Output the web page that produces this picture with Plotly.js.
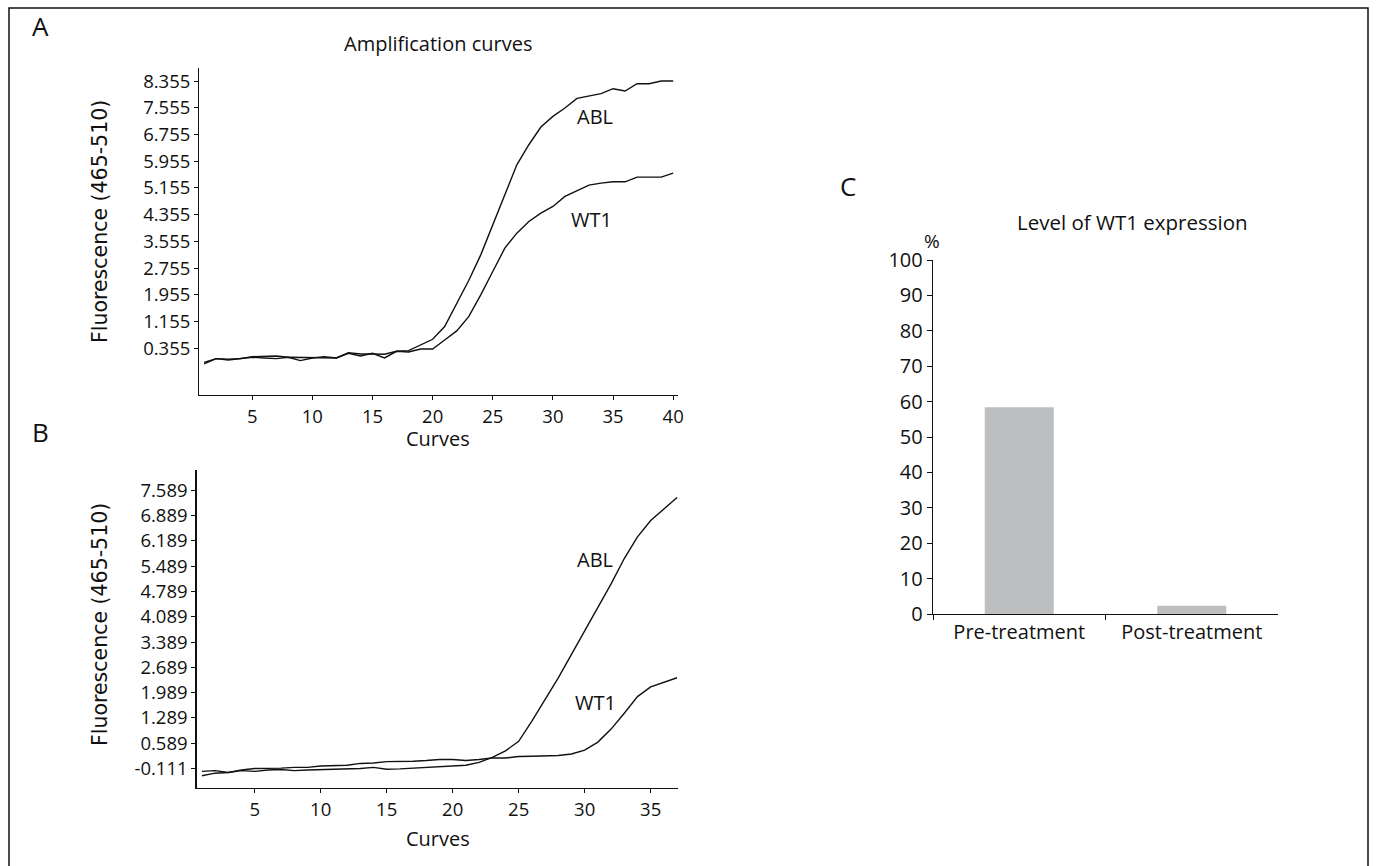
<!DOCTYPE html>
<html><head><meta charset="utf-8">
<script src="https://cdn.plot.ly/plotly-3.0.1.min.js"></script>
<style>html,body{margin:0;padding:0;background:#fff;} #chart{width:1376px;height:866px;}</style>
</head><body><div id="chart"></div>
<script>
// ---------- Data ----------
const cyclesA = [1,2,3,4,5,6,7,8,9,10,11,12,13,14,15,16,17,18,19,20,21,22,23,24,25,26,27,28,29,30,31,32,33,34,35,36,37,38,39,40];
const ablA = [-0.07,0.04,0.02,0.04,0.10,0.12,0.12,0.08,-0.02,0.06,0.10,0.06,0.20,0.12,0.20,0.06,0.26,0.28,0.46,0.62,1.00,1.70,2.38,3.15,4.05,4.95,5.85,6.45,6.98,7.30,7.55,7.84,7.90,7.98,8.13,8.06,8.28,8.28,8.36,8.36];
const wt1A = [-0.12,0.04,0.00,0.04,0.08,0.06,0.04,0.08,0.08,0.06,0.08,0.06,0.22,0.18,0.18,0.17,0.26,0.24,0.33,0.33,0.60,0.87,1.30,1.95,2.65,3.35,3.80,4.15,4.40,4.60,4.90,5.08,5.24,5.30,5.34,5.34,5.48,5.48,5.48,5.60];
const yTicksA = [0.355,1.155,1.955,2.755,3.555,4.355,5.155,5.955,6.755,7.555,8.355];
const xTicksA = [5,10,15,20,25,30,35,40];

const cyclesB = [1,2,3,4,5,6,7,8,9,10,11,12,13,14,15,16,17,18,19,20,21,22,23,24,25,26,27,28,29,30,31,32,33,34,35,36,37];
const ablB = [-0.31,-0.24,-0.22,-0.17,-0.19,-0.15,-0.14,-0.17,-0.15,-0.14,-0.14,-0.14,-0.11,-0.08,-0.13,-0.12,-0.10,-0.08,-0.08,-0.06,-0.02,0.06,0.20,0.38,0.64,1.20,1.80,2.40,3.05,3.70,4.33,5.00,5.70,6.30,6.75,7.07,7.39];
const wt1B = [-0.19,-0.17,-0.22,-0.15,-0.11,-0.11,-0.10,-0.08,-0.08,-0.04,-0.04,-0.02,0.03,0.04,0.08,0.08,0.09,0.11,0.14,0.14,0.11,0.14,0.18,0.18,0.22,0.23,0.24,0.25,0.29,0.40,0.62,0.98,1.42,1.88,2.15,2.27,2.40];
const yTicksB = [-0.111,0.589,1.289,1.989,2.689,3.389,4.089,4.789,5.489,6.189,6.889,7.589];
const xTicksB = [5,10,15,20,25,30,35];

const categoriesC = ['Pre-treatment','Post-treatment'];
const valuesC = [58.4, 2.3];
const yTicksC = [0,10,20,30,40,50,60,70,80,90,100];

// ---------- Helpers ----------
const W = 1376, H = 866;
const px = x => x / W;
const py = y => 1 - y / H;
const FAM = 'Open Sans, sans-serif';
const TICKFONT = {family: FAM, size: 18.5, color: '#111'};
const TICKFONT_C = {family: FAM, size: 20, color: '#111'};
const LABFONT = {family: FAM, size: 20, color: '#111'};

function axisBase(extra) {
  return Object.assign({
    showline: true, linecolor: '#111', linewidth: 1.3,
    ticks: 'outside', ticklen: 4, tickwidth: 1, tickcolor: '#111',
    showgrid: false, zeroline: false, tickfont: TICKFONT, fixedrange: true
  }, extra);
}

const lineStyle = {color: '#111', width: 1.4};

const traces = [
  {x: cyclesA, y: ablA, type: 'scatter', mode: 'lines', line: lineStyle, xaxis: 'x', yaxis: 'y', name: 'ABL'},
  {x: cyclesA, y: wt1A, type: 'scatter', mode: 'lines', line: lineStyle, xaxis: 'x', yaxis: 'y', name: 'WT1'},
  {x: cyclesB, y: ablB, type: 'scatter', mode: 'lines', line: lineStyle, xaxis: 'x2', yaxis: 'y2', name: 'ABL'},
  {x: cyclesB, y: wt1B, type: 'scatter', mode: 'lines', line: lineStyle, xaxis: 'x2', yaxis: 'y2', name: 'WT1'},
  {x: categoriesC, y: valuesC, type: 'bar', marker: {color: '#bcbec0'}, xaxis: 'x3', yaxis: 'y3', name: 'WT1 level'}
];

const ann = (text, x, y, size, extra) => Object.assign({
  text: text, xref: 'paper', yref: 'paper', x: px(x), y: py(y),
  xanchor: 'center', yanchor: 'middle', showarrow: false,
  font: {family: FAM, size: size, color: '#111'}
}, extra || {});

const YTFONT = {family: 'DejaVu Sans, sans-serif', size: 20.5, color: '#111'};

const annotations = [
  ann('A', 40, 26, 26),
  ann('Amplification curves', 438, 44, 20),
  ann('Curves', 438, 438, 20),
  ann('Fluorescence (465-510)', 100, 222, 20, {textangle: -90, font: YTFONT}),
  ann('B', 40, 432, 26),
  ann('Curves', 438, 838, 20),
  ann('Fluorescence (465-510)', 100, 625, 20, {textangle: -90, font: YTFONT}),
  ann('C', 848, 186, 26),
  ann('Level of WT1 expression', 1132, 222, 20.5),
  ann('%', 932, 241, 19),
  {text: 'ABL', xref: 'x', yref: 'y', x: 33.5, y: 7.31, showarrow: false, font: LABFONT},
  {text: 'WT1', xref: 'x', yref: 'y', x: 33.2, y: 4.21, showarrow: false, font: LABFONT},
  {text: 'ABL', xref: 'x2', yref: 'y2', x: 30.8, y: 5.66, showarrow: false, font: LABFONT},
  {text: 'WT1', xref: 'x2', yref: 'y2', x: 30.8, y: 1.71, showarrow: false, font: LABFONT}
];

const layout = {
  width: W, height: H,
  margin: {l: 0, r: 0, t: 0, b: 0},
  paper_bgcolor: '#fff', plot_bgcolor: 'rgba(0,0,0,0)',
  showlegend: false,
  bargap: 0.6,
  xaxis: axisBase({domain: [px(199.3), px(678)], range: [0.6, 40.4], anchor: 'y', tickvals: xTicksA, ticktext: xTicksA.map(String)}),
  yaxis: axisBase({domain: [py(395), py(68)], range: [-1.05, 8.75], anchor: 'x', tickvals: yTicksA, ticktext: yTicksA.map(v => v.toFixed(3))}),
  xaxis2: axisBase({domain: [px(196.6), px(678.4)], range: [0.6, 37.1], anchor: 'y2', tickvals: xTicksB, ticktext: xTicksB.map(String)}),
  yaxis2: axisBase({domain: [py(788), py(470)], range: [-0.65, 8.15], anchor: 'x2', tickvals: yTicksB, ticktext: yTicksB.map(v => v.toFixed(3))}),
  xaxis3: axisBase({domain: [px(933), px(1278)], range: [-0.5, 1.5], anchor: 'y3', type: 'category', tickson: 'boundaries', ticklen: 5, tickfont: TICKFONT_C}),
  yaxis3: axisBase({domain: [py(614), py(260)], range: [0, 100], anchor: 'x3', tickvals: yTicksC, ticktext: yTicksC.map(String), ticklen: 5, tickfont: TICKFONT_C}),
  annotations: annotations,
  shapes: [{type: 'rect', xref: 'paper', yref: 'paper', x0: px(9), x1: px(1368), y0: -0.05, y1: py(8), line: {color: '#111', width: 1.5}, fillcolor: 'rgba(0,0,0,0)'}]
};

Plotly.newPlot('chart', traces, layout, {displayModeBar: false, staticPlot: true});
</script>
</body></html>
